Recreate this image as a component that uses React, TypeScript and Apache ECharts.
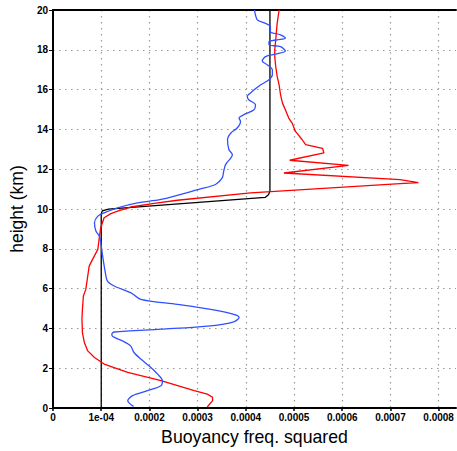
import React, { useEffect, useRef } from "react";
import * as echarts from "echarts";

// x values in units of 1e-4 (buoyancy frequency squared), heights in km
const SCALE = 1e-4;

const blackX = [1.0, 1.0, 1.02, 1.15, 4.4, 4.47, 4.5, 4.5];
const blackH = [0, 9.75, 9.9, 9.99, 10.58, 10.72, 10.9, 20];

const blueX = [
  1.67, 1.55, 1.65, 1.96, 2.24, 2.27, 2.17, 1.99, 1.82, 1.68, 1.61, 1.44, 1.24, 1.22, 1.27,
  2.24, 3.27, 3.75, 3.86, 3.75, 3.27, 2.58, 1.82, 1.61, 1.27, 1.13, 1.08, 1.03, 0.99, 0.96,
  0.89, 0.86, 0.93, 1.06, 1.34, 1.75, 2.24, 3.06, 3.37, 3.51, 3.54, 3.58, 3.69, 3.72, 3.65,
  3.62, 3.69, 3.82, 3.89, 3.86, 3.96, 4.17, 4.2, 4.06, 4.03, 4.13, 4.31, 4.48, 4.55, 4.55,
  4.45, 4.34, 4.41, 4.62, 4.82, 4.72, 4.48, 4.48, 4.65, 4.82, 4.72, 4.51, 4.51, 4.41, 4.24,
  4.2, 4.18,
];
const blueH = [
  0.08, 0.37, 0.62, 0.87, 1.12, 1.37, 1.7, 2.12, 2.46, 2.79, 3.12, 3.37, 3.59, 3.71, 3.82,
  3.96, 4.13, 4.33, 4.55, 4.71, 4.96, 5.21, 5.46, 5.8, 6.13, 6.38, 6.88, 7.63, 8.31, 8.64,
  8.89, 9.31, 9.64, 9.81, 10.06, 10.31, 10.48, 11.01, 11.23, 11.56, 11.89, 12.23, 12.57, 12.73, 12.98,
  13.48, 13.82, 14.07, 14.4, 14.57, 14.74, 14.99, 15.24, 15.49, 15.65, 15.9, 16.24, 16.49, 16.74, 16.99,
  17.24, 17.44, 17.66, 17.78, 17.94, 18.16, 18.25, 18.41, 18.5, 18.58, 18.75, 18.91, 19.16, 19.33, 19.5,
  19.75, 20.0,
];

const redX = [
  3.2, 3.31, 3.31, 3.2, 2.93, 2.24, 1.55, 1.06, 0.86, 0.72, 0.65, 0.61, 0.6, 0.61, 0.63,
  0.68, 0.72, 0.75, 0.82, 0.93, 0.96, 0.99, 1.06, 1.2, 1.34, 1.61, 2.1, 2.58, 4.1, 7.2,
  7.58, 7.2, 4.79, 6.13, 4.91, 5.62, 5.59, 5.24, 5.17, 5.03, 4.96, 4.89, 4.82, 4.76, 4.72,
  4.69, 4.65, 4.62, 4.6, 4.6, 4.62, 4.65, 4.69,
];
const redH = [
  0.05, 0.37, 0.54, 0.7, 0.87, 1.37, 1.79, 2.21, 2.54, 2.87, 3.29, 3.79, 4.46, 4.96, 5.63,
  5.96, 6.63, 7.13, 7.47, 7.97, 8.57, 9.06, 9.56, 9.77, 9.89, 10.1, 10.28, 10.44, 10.81, 11.28,
  11.33, 11.48, 11.81, 12.19, 12.45, 12.82, 13.05, 13.23, 13.48, 13.9, 14.32, 14.57, 14.99, 15.32, 15.74,
  16.24, 16.66, 17.16, 17.66, 18.0, 18.5, 19.33, 20.0,
];

const xTickLabels: Record<string, string> = { "0": "0", "1": "1e-04" };

const pairs = (xs: number[], hs: number[]) => xs.map((x, i) => [x * SCALE, hs[i]]);

const FONT = "'Liberation Sans', Arial, Helvetica, sans-serif";

export default function App() {
  const ref = useRef<HTMLDivElement>(null);
  useEffect(() => {
    if (!ref.current) return;
    const chart = echarts.init(ref.current, null, { renderer: "svg" });
    const gridLine = { show: true, lineStyle: { color: "#9a9a9a", type: [1.5, 4.5], width: 1.2 } };
    chart.setOption({
      animation: false,
      backgroundColor: "#ffffff",
      grid: { left: 52, right: 1, top: 10, bottom: 42, containLabel: false },
      xAxis: [
        {
          type: "value",
          min: 0,
          max: 0.000836,
          interval: 0.0001,
          name: "Buoyancy freq. squared",
          nameLocation: "middle",
          nameGap: 20,
          nameTextStyle: { fontFamily: FONT, fontSize: 17.7, color: "#000" },
          axisLine: { show: true, lineStyle: { color: "#000", width: 2 } },
          axisTick: { show: true, length: 3, lineStyle: { color: "#000", width: 1.5 } },
          axisLabel: {
            showMaxLabel: false,
            fontFamily: FONT,
            fontSize: 10,
            fontWeight: "bold",
            color: "#000",
            margin: 4,
            formatter: (v: number) => {
              const k = Math.round(v / SCALE);
              if (Math.abs(v - k * SCALE) > 1e-9) return "";
              return xTickLabels[String(k)] ?? (k * SCALE).toFixed(4);
            },
          },
          splitLine: { ...gridLine, showMinLine: false, showMaxLine: false },
        },
        {
          type: "value",
          position: "top",
          min: 0,
          max: 0.000836,
          axisLine: { show: true, lineStyle: { color: "#000", width: 2 } },
          axisTick: { show: false },
          axisLabel: { show: false },
          splitLine: { show: false },
        },
      ],
      yAxis: {
        type: "value",
        min: 0,
        max: 20,
        interval: 2,
        name: "height (km)",
        nameLocation: "middle",
        nameGap: 21,
        nameTextStyle: { fontFamily: FONT, fontSize: 17.5, color: "#000" },
        axisLine: { show: true, lineStyle: { color: "#000", width: 2 } },
        axisTick: { show: true, length: 4, lineStyle: { color: "#000", width: 1 } },
        axisLabel: { fontFamily: FONT, fontSize: 10, fontWeight: "bold", color: "#000", margin: 5 },
        splitLine: { ...gridLine, showMinLine: false, showMaxLine: false },
      },
      series: [
        {
          type: "line",
          data: pairs(blackX, blackH),
          showSymbol: false,
          lineStyle: { color: "#000000", width: 1.3 },
          z: 2,
        },
        {
          type: "line",
          data: pairs(redX, redH),
          showSymbol: false,
          lineStyle: { color: "#ff0000", width: 1.3 },
          z: 3,
        },
        {
          type: "line",
          data: pairs(blueX, blueH),
          showSymbol: false,
          smooth: 0.3,
          lineStyle: { color: "#3050ff", width: 1.3 },
          z: 4,
        },
      ],
    });
    return () => chart.dispose();
  }, []);
  return (
    <div
      ref={ref}
      style={{ position: "fixed", left: 0, top: 0, width: 457, height: 451, background: "#fff" }}
    />
  );
}
